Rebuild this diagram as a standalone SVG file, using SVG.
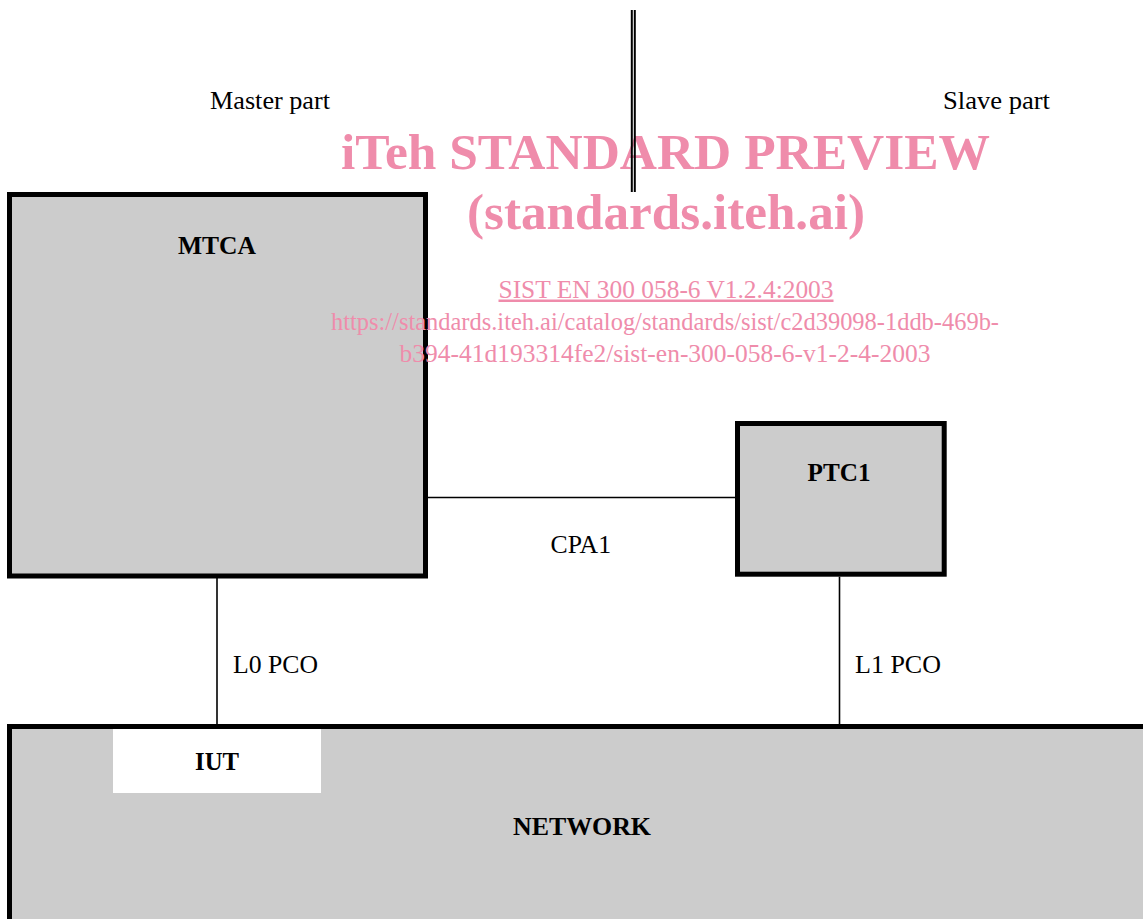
<svg xmlns="http://www.w3.org/2000/svg" width="1143" height="919" viewBox="0 0 1143 919">
<style>
.box{fill:#cccccc;stroke:#000;stroke-width:5}
.lbl{font-family:"Liberation Serif","Times New Roman",serif;font-size:26px;fill:#000}
.b{font-weight:bold;text-anchor:middle}
.conn{stroke:#000;stroke-width:1.6;fill:none}
.wm{font-family:"Liberation Serif","Times New Roman",serif;fill:#ef8cab}
</style>
<rect width="1143" height="919" fill="#fff"/>
<g id="labels">
<text class="lbl" x="210" y="109" textLength="120" lengthAdjust="spacingAndGlyphs">Master part</text>
<text class="lbl" x="943" y="109" textLength="107" lengthAdjust="spacingAndGlyphs">Slave part</text>
</g>
<g id="network">
<rect class="box" x="9.5" y="726.5" width="1200" height="300"/>
<rect x="113" y="729" width="208" height="64" fill="#fff"/>
<text class="lbl b" x="582" y="835" textLength="138" lengthAdjust="spacingAndGlyphs">NETWORK</text>
</g>
<g id="iut">
<text class="lbl b" x="217" y="770" textLength="44" lengthAdjust="spacingAndGlyphs">IUT</text>
</g>
<g id="mtca">
<rect class="box" x="9.5" y="194.5" width="416" height="381.5"/>
<text class="lbl b" x="217" y="254" textLength="78" lengthAdjust="spacingAndGlyphs">MTCA</text>
</g>
<g id="ptc1">
<rect class="box" x="737.5" y="423.5" width="206.7" height="150.7"/>
<text class="lbl b" x="839" y="481" textLength="63" lengthAdjust="spacingAndGlyphs">PTC1</text>
</g>
<g id="connectors">
<line class="conn" x1="428" y1="497.5" x2="735" y2="497.5"/>
<line class="conn" x1="217" y1="578" x2="217" y2="724"/>
<line class="conn" x1="839.5" y1="576.7" x2="839.5" y2="724"/>
<text class="lbl" x="550.5" y="552.5" textLength="60.5" lengthAdjust="spacingAndGlyphs">CPA1</text>
<text class="lbl" x="233" y="673" textLength="85" lengthAdjust="spacingAndGlyphs">L0 PCO</text>
<text class="lbl" x="855" y="673" textLength="86" lengthAdjust="spacingAndGlyphs">L1 PCO</text>
</g>
<g id="watermark">
<text class="wm" x="341" y="168.5" font-size="50" font-weight="bold" textLength="649" lengthAdjust="spacingAndGlyphs">iTeh STANDARD PREVIEW</text>
<text class="wm" x="467" y="228.5" font-size="50" font-weight="bold" textLength="398" lengthAdjust="spacingAndGlyphs">(standards.iteh.ai)</text>
<text class="wm" x="498.5" y="297.5" font-size="25" textLength="335" lengthAdjust="spacingAndGlyphs" text-decoration="underline">SIST EN 300 058-6 V1.2.4:2003</text>
<text class="wm" x="331" y="330" font-size="25" textLength="668" lengthAdjust="spacingAndGlyphs">https://standards.iteh.ai/catalog/standards/sist/c2d39098-1ddb-469b-</text>
<text class="wm" x="399.5" y="361.5" font-size="25" textLength="531" lengthAdjust="spacingAndGlyphs">b394-41d193314fe2/sist-en-300-058-6-v1-2-4-2003</text>
</g>
<g id="divider">
<line x1="631.8" y1="10" x2="631.8" y2="192" stroke="#000" stroke-width="2"/>
<line x1="634.8" y1="10" x2="634.8" y2="192" stroke="#000" stroke-width="2"/>
</g>
</svg>
